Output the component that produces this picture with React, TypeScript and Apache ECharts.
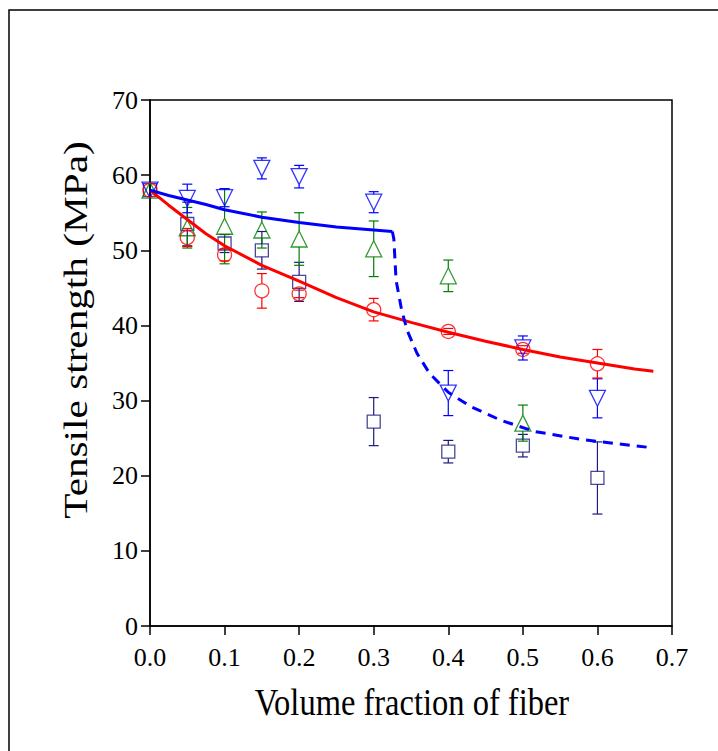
import React, { useEffect, useRef } from "react";
import * as echarts from "echarts";

// Volume fractions of fiber (x positions of the measurements)
const fractions = [0, 0.05, 0.1, 0.15, 0.2, 0.3, 0.4, 0.5, 0.6];

// Navy squares
const squareMean = [58, 53.5, 50.9, 50.0, 45.8, 27.2, 23.2, 24.0, 19.7];
const squareErr = [0, 2.9, 1.2, 2.5, 2.6, 3.2, 1.5, 1.5, 4.8];

// Green up-triangles (no value at 0.6)
const triUpMean = [58, 53.0, 53.2, 52.7, 51.5, 50.2, 46.6, 27.0];
const triUpErr = [0, 2.7, 5.0, 2.4, 3.5, 3.7, 2.1, 2.4];

// Blue down-triangles
const triDownMean = [58, 56.9, 57.0, 60.9, 59.8, 56.4, 31.0, 37.0, 30.3];
const triDownErr = [0, 1.9, 1.2, 1.4, 1.5, 1.4, 3.0, 1.6, 2.6];

// Red circles
const circleMean = [58, 51.7, 49.4, 44.6, 44.2, 42.1, 39.2, 36.8, 34.9];
const circleErr = [0, 1.2, 0.8, 2.3, 0.5, 1.5, 0.4, 0.5, 1.9];

// Red fitted curve
const redFitX = [0, 0.025, 0.05, 0.075, 0.1, 0.15, 0.2, 0.25, 0.3, 0.35, 0.4, 0.45, 0.5, 0.55, 0.6, 0.65, 0.675];
const redFitY = [58, 56.0, 54.1, 52.2, 50.6, 48.0, 45.9, 43.7, 41.8, 40.4, 39.1, 37.9, 36.8, 35.8, 35.0, 34.2, 33.9];

// Blue fitted curve (solid part)
const blueFitX = [0, 0.025, 0.05, 0.075, 0.1, 0.15, 0.2, 0.25, 0.3, 0.325];
const blueFitY = [58, 57.3, 56.7, 56.1, 55.4, 54.4, 53.7, 53.1, 52.7, 52.5];

// Blue fitted curve (dashed part)
const blueDashX = [0.325, 0.327, 0.33, 0.3375, 0.345, 0.358, 0.375, 0.4, 0.43, 0.47, 0.515, 0.58, 0.675];
const blueDashY = [52.5, 51.5, 46.0, 42.0, 39.3, 36.3, 33.6, 31.1, 29.2, 27.4, 25.9, 24.8, 23.7];

const xTicks = ["0.0", "0.1", "0.2", "0.3", "0.4", "0.5", "0.6", "0.7"];

const FONT = "Liberation Serif";

function errSeries(name: string, means: number[], errs: number[], color: string, r: number) {
  return {
    type: "custom",
    name,
    silent: true,
    z: 3,
    renderItem: (_params: any, api: any) => {
      const x = api.value(0);
      const m = api.value(1);
      const e = api.value(2);
      if (!e) return { type: "group", children: [] };
      const pm = api.coord([x, m]);
      const ph = api.coord([x, m + e]);
      const pl = api.coord([x, m - e]);
      const cw = 5;
      const st = { stroke: color, lineWidth: 1.2 };
      const children: any[] = [
        { type: "line", shape: { x1: ph[0] - cw, y1: ph[1], x2: ph[0] + cw, y2: ph[1] }, style: st },
        { type: "line", shape: { x1: pl[0] - cw, y1: pl[1], x2: pl[0] + cw, y2: pl[1] }, style: st },
      ];
      if (ph[1] < pm[1] - r) {
        children.push({ type: "line", shape: { x1: ph[0], y1: ph[1], x2: ph[0], y2: pm[1] - r }, style: st });
      }
      if (pl[1] > pm[1] + r) {
        children.push({ type: "line", shape: { x1: pl[0], y1: pm[1] + r, x2: pl[0], y2: pl[1] }, style: st });
      }
      return { type: "group", children };
    },
    data: means.map((m, i) => [fractions[i], m, errs[i]]),
    encode: { x: 0, y: 1 },
  };
}

function markerSeries(name: string, means: number[], color: string, symbol: string, size: number, rotate = 0) {
  return {
    type: "scatter",
    name,
    z: 4,
    symbol,
    symbolSize: size,
    symbolRotate: rotate,
    itemStyle: { color: "rgba(0,0,0,0)", borderColor: color, borderWidth: 1.3 },
    data: means.map((m, i) => [fractions[i], m]),
  };
}

function lineSeries(xs: number[], ys: number[], color: string, dashed: boolean) {
  return {
    type: "line",
    z: 5,
    showSymbol: false,
    symbol: "none",
    smooth: false,
    lineStyle: { color, width: 3, type: dashed ? [10, 7] : "solid" },
    data: xs.map((x, i) => [x, ys[i]]),
  };
}

export default function App() {
  const ref = useRef<HTMLDivElement>(null);
  useEffect(() => {
    document.body.style.margin = "0";
    const chart = echarts.init(ref.current!, null, { renderer: "svg" });
    const navy = "#1a1a80";
    const green = "#008000";
    const blue = "#0000ff";
    const red = "#ff0000";
    const option: any = {
      animation: false,
      backgroundColor: "#ffffff",
      grid: {
        left: 150,
        top: 100,
        right: 46,
        bottom: 125,
        show: true,
        borderColor: "#000",
        borderWidth: 1.5,
        backgroundColor: "transparent",
      },
      xAxis: {
        type: "value",
        min: 0,
        max: 0.7,
        interval: 0.1,
        axisLine: { show: true, onZero: false, lineStyle: { color: "#000", width: 1.5 } },
        axisTick: { show: true, inside: false, length: 9, lineStyle: { color: "#000", width: 1.5 } },
        axisLabel: {
          color: "#000",
          fontFamily: FONT,
          fontSize: 26,
          margin: 18,
          formatter: (v: number) => xTicks[Math.round(v * 10)],
        },
        splitLine: { show: false },
      },
      yAxis: {
        type: "value",
        min: 0,
        max: 70,
        interval: 10,
        axisLine: { show: true, onZero: false, lineStyle: { color: "#000", width: 1.5 } },
        axisTick: { show: true, inside: false, length: 9, lineStyle: { color: "#000", width: 1.5 } },
        axisLabel: { color: "#000", fontFamily: FONT, fontSize: 26, margin: 12 },
        splitLine: { show: false },
      },
      graphic: [
        {
          type: "rect",
          silent: true,
          z: -10,
          shape: { x: 9, y: 10, width: 900, height: 900 },
          style: { fill: "none", stroke: "#000", lineWidth: 1.5 },
        },
        {
          type: "text",
          x: 412,
          y: 702,
          scaleY: 1.19,
          style: {
            text: "Volume fraction of fiber",
            fontSize: 32.5,
            fontFamily: FONT,
            fill: "#000",
            align: "center",
            verticalAlign: "middle",
          },
        },
        {
          type: "text",
          x: 76,
          y: 330,
          rotation: Math.PI / 2,
          scaleX: 1.25,
          style: {
            text: "Tensile strength (MPa)",
            fontSize: 33,
            fontFamily: FONT,
            fill: "#000",
            align: "center",
            verticalAlign: "middle",
          },
        },
      ],
      series: [
        errSeries("sq-err", squareMean, squareErr, navy, 6.5),
        errSeries("up-err", triUpMean, triUpErr, green, 8),
        errSeries("down-err", triDownMean, triDownErr, blue, 8),
        errSeries("circ-err", circleMean, circleErr, red, 7),
        markerSeries("Square", squareMean, navy, "rect", 13),
        markerSeries("Up", triUpMean, green, "triangle", 16),
        markerSeries("Down", triDownMean, blue, "triangle", 16, 180),
        markerSeries("Circle", circleMean, red, "circle", 14),
        lineSeries(redFitX, redFitY, red, false),
        lineSeries(blueFitX, blueFitY, blue, false),
        lineSeries(blueDashX, blueDashY, blue, true),
      ],
    };
    chart.setOption(option);
    return () => chart.dispose();
  }, []);
  return <div ref={ref} style={{ width: 718, height: 751 }} />;
}
